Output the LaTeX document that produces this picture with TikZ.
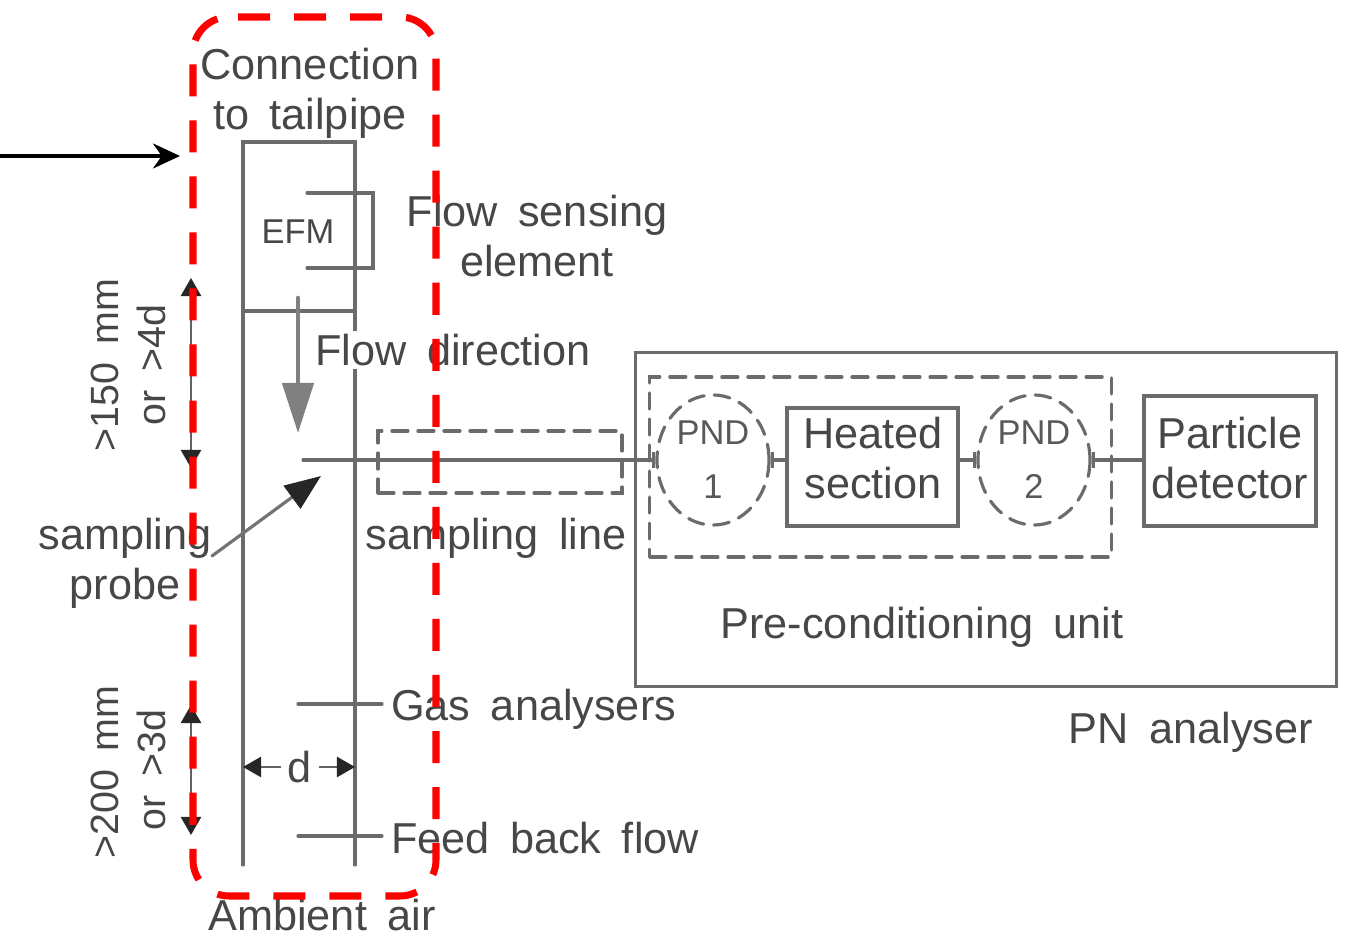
\documentclass[tikz,border=0pt]{standalone}
\usepackage{fontspec}
\setmainfont[WordSpace=1.7]{Liberation Sans}
\usetikzlibrary{arrows.meta,shapes.geometric}

\begin{document}
\begin{tikzpicture}[x=0.01cm,y=-0.01cm,line cap=round,
  lbl/.style={text=black!72,inner sep=1pt,align=center,font=\fontsize{12.3}{14.2}\selectfont},
  smalllbl/.style={lbl,font=\fontsize{9.8}{15.4}\selectfont},
  sidelbl/.style={lbl,rotate=90,font=\fontsize{11.2}{13}\selectfont},
  pipeline/.style={draw=black!58,line width=0.9pt},
  dashline/.style={draw=black!58,line width=0.9pt,dash pattern=on 0.16cm off 0.1cm},
  unitbox/.style={pipeline,inner sep=0pt},
  pndcircle/.style={ellipse,dashline,smalllbl,text=black!65,minimum width=1.12cm,minimum height=1.3cm,inner sep=0pt},
  dimline/.style={black!62,line width=0.7pt,{Triangle[length=0.18cm,width=0.2cm,black!85]}-{Triangle[length=0.18cm,width=0.2cm,black!85]}},
  dimhalf/.style={black!62,line width=0.7pt,-{Triangle[length=0.18cm,width=0.2cm,black!85]}}]
\useasboundingbox (0,0) rectangle (1362,940);
\fill[white] (0,0) rectangle (1362,940);

% exhaust pipe
\draw[pipeline] (243,865) -- (243,142) -- (355,142) -- (355,865);
\draw[pipeline] (243,311) -- (355,311);
\draw[pipeline] (307,193) -- (373,193) -- (373,268) -- (307,268);
\node[smalllbl] (efm) at (298,232) {EFM};
\coordinate (flowtop) at (298,298);
\coordinate (flowtip) at (298,433);
\draw[black!50,line width=1.3pt,-{Triangle[length=0.5cm,width=0.31cm]}] (flowtop) -- (flowtip);

% labels round the pipe
\node[lbl] (connection) at (310,93) {Connection\\to tailpipe};
\node[lbl] (sensing) at (537,236) {Flow sensing\\element};
\node[lbl,fill=white] (direction) at (453,350) {Flow direction};
\node[lbl] (probe) at (125,563) {sampling\\probe};
\node[lbl] (samplingline) at (496,538) {sampling line};
\node[lbl,anchor=west] (gas) at (387,709) {Gas analysers};
\node[lbl,anchor=west] (feedback) at (387,838) {Feed back flow};
\node[lbl] (ambient) at (322,915) {Ambient air};
\node[lbl,inner sep=2pt] (dlabel) at (300,767) {d};
\node[sidelbl] (upperlen) at (105,365) {>150 mm};
\node[sidelbl] (upperratio) at (151,365) {or >4d};
\node[sidelbl] (lowerlen) at (105,772) {>200 mm};
\node[sidelbl] (lowerratio) at (151,770) {or >3d};

% PN analyser
\node[pipeline,minimum width=7cm,minimum height=3.33cm] (analyser) at (986,519.5) {};
\node[dashline,minimum width=4.61cm,minimum height=1.8cm] (precond) at (880.5,467) {};
\node[dashline,minimum width=2.44cm,minimum height=0.62cm] (linebox) at (500,462) {};
\node[pndcircle] (pnd1) at (713,460) {PND\\1};
\node[pndcircle] (pnd2) at (1034,460) {PND\\2};
\node[unitbox,minimum width=1.71cm,minimum height=1.18cm] (heated) at (872.5,467) {};
\node[unitbox,minimum width=1.72cm,minimum height=1.3cm] (detector) at (1230,461) {};
\node[lbl] (heatedtext) at (873,458) {Heated\\section};
\node[lbl] (detectortext) at (1230,458) {Particle\\detector};
\node[lbl] (preconlabel) at (922,627) {Pre-conditioning unit};
\node[lbl] (pnlabel) at (1191,732) {PN analyser};

% connectors
\coordinate (probetip) at (303,460);
\draw[pipeline,-{Bar[width=1.6mm]}] (probetip) -- (probetip -| pnd1.west);
\draw[pipeline,{Bar[width=1.6mm]}-] (pnd1.east) -- (pnd1.east -| heated.west);
\draw[pipeline,-{Bar[width=1.6mm]}] (pnd2.west -| heated.east) -- (pnd2.west);
\draw[pipeline,{Bar[width=1.6mm]}-] (pnd2.east) -- (pnd2.east -| detector.west);
\coordinate (gastick) at (298,704);
\coordinate (feedtick) at (298,836);
\draw[pipeline,shorten >=0.05cm] (gastick) -- (gas.west |- gastick);
\draw[pipeline,shorten >=0.05cm] (feedtick) -- (feedback.west |- feedtick);
\coordinate (probefoot) at (212,556);
\coordinate (probehead) at (321,476);
\draw[black!55,line width=0.9pt,-{Triangle[length=0.36cm,width=0.28cm,black!85]}] (probefoot) -- (probehead);

% dimensions
\coordinate (upperA) at (191,278);
\coordinate (upperB) at (191,468);
\coordinate (lowerA) at (191,705);
\coordinate (lowerB) at (191,835);
\coordinate (leftwall) at (243,767);
\coordinate (rightwall) at (355,767);
\draw[dimline] (upperA) -- (upperB);
\draw[dimline] (lowerA) -- (lowerB);
\draw[dimhalf] (dlabel.west) -- (leftwall);
\draw[dimhalf] (dlabel.east) -- (rightwall);

% highlight
\draw[red,line width=2pt,line cap=butt,rounded corners=0.36cm,dash pattern=on 0.32cm off 0.24cm]
  (238,17) -- (436,17) -- (436,896) -- (193,896) -- (193,17) -- (238,17);
\coordinate (pointerstart) at (0,156);
\coordinate (pointerend) at (180,156);
\draw[black,line width=0.9pt,-{Stealth[length=0.27cm,width=0.25cm]}] (pointerstart) -- (pointerend);
\end{tikzpicture}
\end{document}
